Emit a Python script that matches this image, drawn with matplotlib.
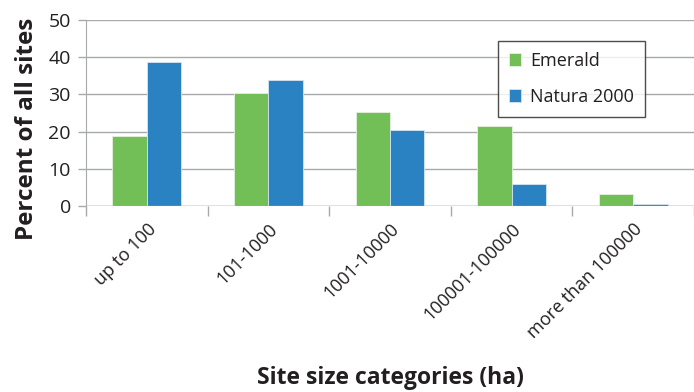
"""Bar chart of site size distribution for Emerald and Natura 2000 networks."""

import matplotlib.pyplot as plt
import numpy as np

categories = ["up to 100", "101-1000", "1001-10000", "100001-100000", "more than 100000"]
emerald = [18.9, 30.4, 25.3, 21.5, 3.2]
natura = [38.8, 34.0, 20.5, 5.8, 0.45]
y_ticks = [0, 10, 20, 30, 40, 50]

GREEN = "#72bf58"
BLUE = "#2a82c2"
GRID = "#a7a9ac"
TEXT = "#231f20"

plt.rcParams["font.family"] = ["Open Sans", "DejaVu Sans"]

fig = plt.figure(figsize=(6.94, 3.92), dpi=100)
ax = fig.add_axes([0.124, 0.4745, 0.876, 0.4745])

x = np.arange(len(categories))
w = 0.283
ax.bar(x - w / 2, emerald, w, color=GREEN, edgecolor="#e6f2df", linewidth=0.6,
       label="Emerald", zorder=3)
ax.bar(x + w / 2, natura, w, color=BLUE, edgecolor="#d4e6f3", linewidth=0.6,
       label="Natura 2000", zorder=3)

ax.set_xlim(-0.5, 4.4)
ax.set_ylim(0, 50)
ax.set_yticks(y_ticks)
ax.yaxis.grid(True, color=GRID, linewidth=1.0, zorder=0)
for side in ("top", "right", "bottom"):
    ax.spines[side].set_visible(False)
ax.spines["left"].set_color(GRID)
ax.axhline(0, color=GRID, linewidth=1.0, zorder=4)

ax.tick_params(axis="y", length=6, width=1.0, color=GRID, labelsize=14,
               labelcolor=TEXT, pad=5)

# category boundaries get the tick marks, labels sit at the centres
ax.set_xticks(x)
ax.set_xticklabels(categories, rotation=45, ha="right", rotation_mode="anchor",
                   fontsize=13, color=TEXT)
ax.tick_params(axis="x", which="major", length=0, pad=10)
ax.set_xticks(np.arange(-0.5, len(categories), 1.0), minor=True)
ax.tick_params(axis="x", which="minor", length=7, width=1.0, color=GRID)

fig.text(0.039, 0.67, "Percent of all sites", rotation=90, ha="center", va="center",
         fontsize=17.5, fontweight="bold", color=TEXT)
fig.text(0.562, 0.036, "Site size categories (ha)", ha="center", va="center",
         fontsize=16.5, fontweight="bold", color=TEXT)

leg = ax.legend(loc="upper left", bbox_to_anchor=(498 / 694, 1 - 41 / 392),
                bbox_transform=fig.transFigure, fontsize=13, frameon=True,
                fancybox=False, handlelength=0.7, handleheight=0.7,
                labelspacing=1.0, handletextpad=0.5, borderpad=0.6,
                borderaxespad=0)
leg.get_frame().set_edgecolor(TEXT)
leg.get_frame().set_linewidth(1.0)
for t in leg.get_texts():
    t.set_color(TEXT)

fig.savefig("out.png", dpi=100)
plt.close(fig)
